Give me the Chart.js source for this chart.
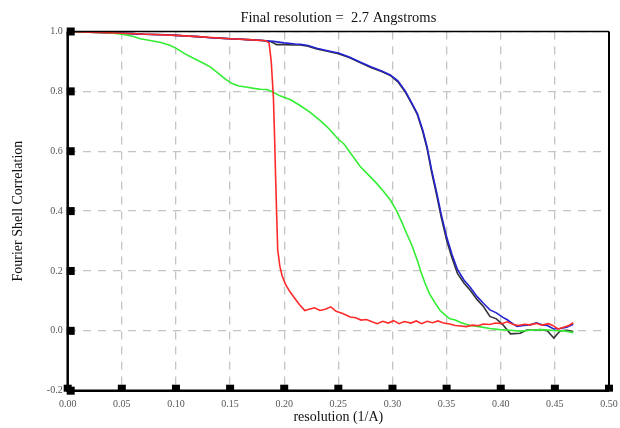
<!DOCTYPE html>
<html><head><meta charset="utf-8">
<script src="https://cdn.jsdelivr.net/npm/chart.js@4"></script>
<style>html,body{margin:0;padding:0;background:#fff}canvas{display:block}</style>
</head><body>
<canvas id="c" width="620" height="428"></canvas>
<script>
const titleText = "Final resolution =  2.7 Angstroms";
const xTitle = "resolution (1/A)";
const yTitle = "Fourier Shell Correlation";
const xTickValues = [0,0.05,0.10,0.15,0.20,0.25,0.30,0.35,0.40,0.45,0.50];
const yTickValues = [-0.2,0,0.2,0.4,0.6,0.8,1.0];

const blueX = [0,0.01,0.02,0.03,0.04,0.05,0.06,0.07,0.08,0.09,0.10,0.11,0.12,0.13,0.14,0.15,0.16,0.17,0.18,0.19,0.20,0.21,0.215,0.222,0.23,0.24,0.25,0.26,0.27,0.28,0.29,0.298,0.305,0.312,0.318,0.323,0.328,0.332,0.336,0.341,0.345,0.35,0.355,0.36,0.366,0.372,0.378,0.384,0.39,0.396,0.402,0.406,0.411,0.415,0.421,0.427,0.433,0.438,0.443,0.449,0.455,0.461,0.467];
const blueY = [1.000,0.999,0.998,0.997,0.995,0.994,0.993,0.991,0.990,0.989,0.987,0.985,0.983,0.980,0.978,0.976,0.974,0.972,0.970,0.967,0.962,0.958,0.957,0.953,0.944,0.936,0.928,0.915,0.898,0.882,0.868,0.855,0.835,0.800,0.760,0.726,0.670,0.614,0.540,0.459,0.390,0.314,0.255,0.205,0.170,0.145,0.115,0.092,0.070,0.060,0.045,0.037,0.024,0.015,0.018,0.020,0.027,0.020,0.018,0.006,0.008,0.012,0.022];

const blackX = [0,0.01,0.02,0.03,0.04,0.05,0.06,0.07,0.08,0.09,0.10,0.11,0.12,0.13,0.14,0.15,0.16,0.17,0.18,0.188,0.193,0.20,0.21,0.215,0.222,0.23,0.24,0.25,0.26,0.27,0.28,0.29,0.298,0.305,0.312,0.318,0.323,0.328,0.332,0.336,0.341,0.345,0.35,0.355,0.36,0.366,0.372,0.378,0.384,0.39,0.396,0.402,0.409,0.418,0.424,0.43,0.436,0.443,0.449,0.455,0.461,0.467];
const blackY = [1.000,0.999,0.998,0.997,0.995,0.994,0.993,0.991,0.990,0.989,0.987,0.985,0.983,0.980,0.978,0.976,0.974,0.972,0.970,0.966,0.956,0.956,0.955,0.955,0.951,0.942,0.934,0.926,0.913,0.896,0.880,0.866,0.853,0.832,0.797,0.757,0.722,0.665,0.608,0.533,0.450,0.380,0.303,0.243,0.192,0.160,0.135,0.105,0.081,0.048,0.040,0.020,-0.010,-0.008,0.003,0.002,0.004,0.000,-0.024,0.000,0.002,-0.002];

const redX = [0,0.02,0.05,0.08,0.10,0.12,0.15,0.17,0.183,0.186,0.188,0.190,0.191,0.192,0.193,0.194,0.196,0.198,0.201,0.205,0.209,0.214,0.219,0.223,0.228,0.233,0.238,0.243,0.248,0.254,0.261,0.266,0.271,0.276,0.281,0.286,0.291,0.296,0.301,0.306,0.311,0.317,0.322,0.327,0.332,0.337,0.342,0.347,0.353,0.358,0.363,0.368,0.374,0.379,0.384,0.39,0.395,0.401,0.406,0.411,0.416,0.422,0.427,0.433,0.438,0.444,0.448,0.453,0.458,0.463,0.467];
const redY = [1.000,0.998,0.994,0.990,0.987,0.983,0.976,0.972,0.969,0.962,0.90,0.78,0.66,0.52,0.39,0.27,0.215,0.185,0.157,0.132,0.112,0.088,0.068,0.072,0.077,0.068,0.072,0.080,0.065,0.058,0.046,0.044,0.036,0.038,0.030,0.024,0.032,0.026,0.034,0.024,0.031,0.026,0.033,0.024,0.032,0.027,0.033,0.026,0.023,0.018,0.016,0.014,0.019,0.017,0.023,0.021,0.026,0.024,0.030,0.022,0.018,0.022,0.020,0.025,0.019,0.024,0.018,0.006,0.012,0.018,0.027];

const greenX = [0,0.01,0.02,0.03,0.04,0.05,0.06,0.067,0.075,0.086,0.095,0.101,0.108,0.117,0.125,0.132,0.14,0.146,0.152,0.158,0.166,0.172,0.178,0.184,0.19,0.196,0.206,0.215,0.224,0.233,0.24,0.245,0.25,0.255,0.262,0.27,0.278,0.286,0.292,0.298,0.304,0.309,0.313,0.318,0.323,0.326,0.33,0.334,0.339,0.344,0.349,0.353,0.358,0.363,0.368,0.372,0.38,0.39,0.399,0.408,0.418,0.428,0.438,0.449,0.458,0.467];
const greenY = [1.000,0.999,0.998,0.997,0.995,0.991,0.984,0.976,0.971,0.963,0.953,0.942,0.926,0.909,0.895,0.881,0.858,0.840,0.826,0.818,0.814,0.810,0.807,0.806,0.797,0.785,0.772,0.752,0.730,0.703,0.680,0.660,0.640,0.625,0.590,0.550,0.520,0.490,0.465,0.437,0.400,0.360,0.326,0.285,0.235,0.200,0.160,0.125,0.095,0.068,0.052,0.040,0.036,0.028,0.022,0.018,0.014,0.008,0.004,0.002,-0.001,0.002,0.004,0.001,0.000,-0.006];

function pts(xs, ys){ return xs.map((x,i)=>({x:x, y:ys[i]})); }

const frame = {
  id:'frame',
  afterDatasetsDraw(chart){
    const ctx = chart.ctx, a = chart.chartArea;
    const xs = chart.scales.x, ys = chart.scales.y;
    ctx.save();
    ctx.strokeStyle = '#000';
    ctx.lineWidth = 1.5;
    ctx.beginPath(); ctx.moveTo(a.left, a.top); ctx.lineTo(a.right, a.top); ctx.stroke();
    ctx.lineWidth = 2;
    ctx.beginPath(); ctx.moveTo(a.right, a.top); ctx.lineTo(a.right, a.bottom); ctx.stroke();
    ctx.lineWidth = 2.5;
    ctx.beginPath(); ctx.moveTo(a.left, a.top); ctx.lineTo(a.left, a.bottom); ctx.lineTo(a.right, a.bottom); ctx.stroke();
    ctx.fillStyle = '#000';
    xTickValues.forEach(v => { const px = xs.getPixelForValue(v); ctx.fillRect(px-4, a.bottom-6, 8, 7); });
    yTickValues.forEach(v => { const py = ys.getPixelForValue(v); ctx.fillRect(a.left-1, py-4, 8, 8); });
    ctx.restore();
  }
};

const tickFont = {family:'"Liberation Serif", serif', size:10};
const titleFont = {family:'"Liberation Serif", serif', size:14, weight:'normal'};

new Chart(document.getElementById('c'), {
  type:'scatter',
  data:{ datasets:[
    {label:'red', data:pts(redX, redY), borderColor:'#ff2a2a', order:0},
    {label:'green', data:pts(greenX, greenY), borderColor:'#33ee33', order:1},
    {label:'blue', data:pts(blueX, blueY), borderColor:'#2323d0', order:2},
    {label:'black', data:pts(blackX, blackY), borderColor:'#333333', order:3}
  ].map(d => Object.assign(d, {showLine:true, pointRadius:0, borderWidth:1.6, tension:0, fill:false})) },
  options:{
    responsive:false, animation:false,
    layout:{padding:{left:0, right:11, top:0, bottom:0}},
    plugins:{
      legend:{display:false}, tooltip:{enabled:false},
      title:{display:true, fullSize:false, text:titleText, color:'#111', font:{family:'"Liberation Serif", serif', size:14.5, weight:'normal'}, padding:{top:9.2, bottom:4.9}}
    },
    scales:{
      x:{ type:'linear', min:0, max:0.5,
        afterBuildTicks: s => { s.ticks = xTickValues.map(v => ({value:v})); },
        afterFit: s => { s.height = 37.3; s.paddingLeft = 0; s.paddingRight = 0; },
        ticks:{ color:'#555', font:tickFont, padding:8, maxRotation:0, callback: v => Number(v).toFixed(2) },
        grid:{ color:'#c4c4c4', lineWidth:1.3, drawTicks:false },
        border:{ display:false, dash:[8,7] },
        title:{ display:true, text:xTitle, color:'#111', font:titleFont, padding:{top:0, bottom:2} }
      },
      y:{ type:'linear', min:-0.2, max:1.0,
        afterBuildTicks: s => { s.ticks = yTickValues.map(v => ({value:v})); },
        afterFit: s => { s.width = 67.7; s.paddingTop = 0; s.paddingBottom = 0; },
        ticks:{ color:'#555', font:tickFont, padding:5, callback: v => Number(v).toFixed(1) },
        grid:{ color:'#c4c4c4', lineWidth:1.3, drawTicks:false },
        border:{ display:false, dash:[8,7] },
        title:{ display:true, text:yTitle, color:'#111', font:titleFont, padding:{top:10, bottom:0} }
      }
    }
  },
  plugins:[frame]
});
</script>
</body></html>
